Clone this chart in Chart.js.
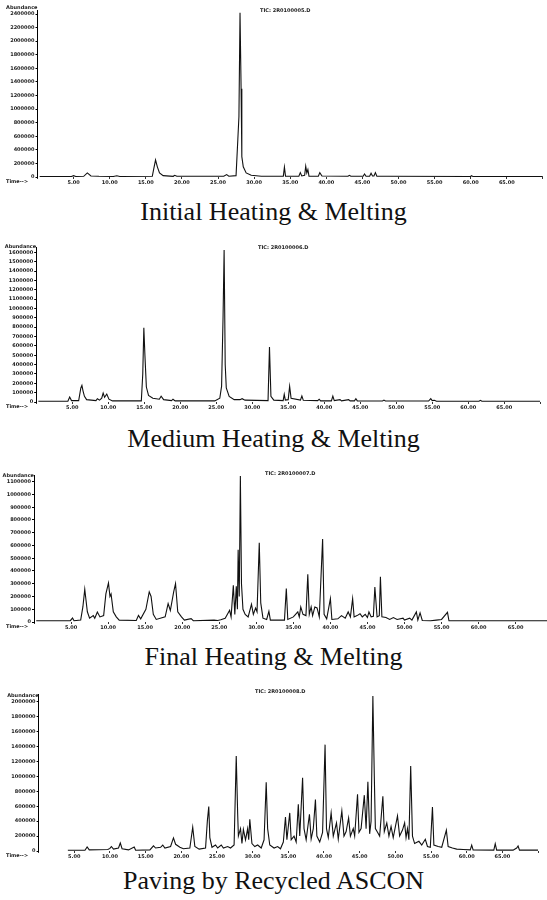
<!DOCTYPE html>
<html>
<head>
<meta charset="utf-8">
<script src="https://cdn.jsdelivr.net/npm/chart.js@4.4.1/dist/chart.umd.min.js"></script>
<style>
  html, body { margin: 0; padding: 0; background: #fff; }
  body { width: 547px; height: 900px; overflow: hidden; position: relative; }
  canvas { position: absolute; left: 0; }
  .ttl { position: absolute; left: 0; width: 547px; text-align: center; font-family: 'Liberation Serif', serif; font-size: 26px; line-height: 26px; color: #111; white-space: nowrap; }
</style>
</head>
<body>
<script>
// Chromatogram traces (retention time in min, abundance)
const initialTime  = [0.3, 4.7, 5.0, 5.3, 6.4, 6.9, 7.4, 8.5, 10.5, 11.0, 11.4, 15.9, 16.1, 16.35, 16.6, 16.9, 17.4, 18.8, 19.0, 19.3, 25.8, 26.2, 26.5, 27.5, 27.75, 27.9, 28.05, 28.2, 28.3, 28.5, 28.9, 29.6, 31.0, 34.05, 34.2, 34.35, 36.2, 36.4, 36.6, 37.0, 37.15, 37.3, 37.45, 37.6, 38.9, 39.1, 39.4, 43.0, 43.2, 43.4, 45.1, 45.3, 45.5, 46.0, 46.2, 46.4, 46.6, 46.8, 47.0, 48.5, 60.0, 60.1, 60.3, 70];
const initialAbund = [8000, 8000, 20000, 8000, 10000, 60000, 15000, 10000, 8000, 18000, 8000, 10000, 120000, 250000, 150000, 60000, 20000, 10000, 25000, 10000, 10000, 35000, 12000, 20000, 560000, 890000, 2420000, 1300000, 300000, 150000, 60000, 25000, 12000, 12000, 145000, 12000, 12000, 64000, 15000, 25000, 160000, 60000, 110000, 12000, 12000, 64000, 15000, 10000, 25000, 10000, 10000, 45000, 10000, 10000, 55000, 15000, 15000, 64000, 12000, 10000, 8000, 20000, 8000, 8000];

const mediumTime  = [0.3, 4.4, 4.65, 4.9, 5.9, 6.2, 6.35, 6.5, 6.7, 7.0, 8.3, 8.5, 8.8, 9.1, 9.3, 9.5, 9.8, 10.1, 10.6, 14.6, 14.8, 14.95, 15.1, 15.3, 15.6, 16.2, 17.1, 17.35, 17.7, 18.8, 19.0, 19.3, 24.8, 25.5, 25.75, 25.95, 26.1, 26.25, 26.4, 26.8, 27.5, 28.3, 28.6, 29.0, 32.2, 32.4, 32.6, 33.0, 34.3, 34.45, 34.6, 35.0, 35.2, 35.4, 36.7, 36.9, 37.1, 39.1, 39.3, 39.5, 41.0, 41.2, 41.4, 42.2, 42.4, 43.4, 43.6, 44.2, 44.4, 44.6, 48.1, 48.3, 48.5, 54.5, 54.8, 55.0, 55.3, 55.6, 61.5, 61.7, 61.9, 70];
const mediumAbund = [8000, 8000, 53000, 15000, 15000, 150000, 178000, 120000, 60000, 25000, 15000, 35000, 20000, 40000, 96000, 50000, 85000, 30000, 12000, 12000, 300000, 793000, 500000, 160000, 70000, 40000, 30000, 61000, 25000, 15000, 30000, 12000, 12000, 40000, 170000, 900000, 1625000, 400000, 150000, 60000, 25000, 25000, 35000, 20000, 15000, 589000, 60000, 20000, 15000, 82000, 20000, 25000, 168000, 40000, 20000, 64000, 18000, 15000, 30000, 12000, 12000, 64000, 15000, 25000, 12000, 25000, 12000, 12000, 35000, 12000, 10000, 20000, 10000, 10000, 35000, 15000, 18000, 8000, 8000, 18000, 8000, 8000];

const finalTime  = [0.3, 4.9, 5.2, 5.4, 6.3, 6.6, 6.85, 7.0, 7.2, 7.5, 8.0, 8.2, 8.55, 8.9, 9.4, 9.7, 10.05, 10.25, 10.4, 10.7, 11.1, 11.5, 13.8, 14.1, 14.4, 15.1, 15.55, 15.8, 16.1, 16.5, 17.7, 18.1, 18.4, 18.85, 19.1, 19.4, 19.9, 20.3, 21.2, 21.5, 24.3, 24.8, 25.2, 25.8, 26.4, 26.6, 26.9, 27.1, 27.3, 27.45, 27.55, 27.7, 27.85, 28.0, 28.2, 28.5, 28.9, 29.35, 29.6, 29.9, 30.1, 30.4, 30.6, 30.9, 31.4, 31.7, 31.9, 33.8, 34.05, 34.25, 35.0, 35.3, 35.6, 35.8, 36.0, 36.3, 36.7, 36.95, 37.15, 37.4, 37.6, 37.9, 38.2, 38.5, 38.95, 39.15, 39.5, 40.0, 40.2, 41.0, 41.5, 42.0, 42.4, 42.7, 43.0, 43.2, 43.6, 44.0, 44.3, 44.7, 45.0, 45.2, 45.5, 45.8, 46.0, 46.3, 46.6, 46.75, 46.95, 47.5, 48.0, 48.5, 49.0, 49.8, 50.0, 50.7, 51.0, 51.6, 51.8, 52.1, 52.4, 53.5, 54.3, 55.0, 55.8, 56.0, 61.0, 70];
const finalAbund = [10000, 10000, 31000, 10000, 15000, 120000, 256000, 180000, 80000, 30000, 50000, 30000, 79000, 40000, 50000, 220000, 306000, 200000, 220000, 80000, 40000, 15000, 12000, 52000, 25000, 100000, 236000, 200000, 60000, 20000, 40000, 144000, 90000, 236000, 301000, 80000, 40000, 15000, 26000, 10000, 15000, 12000, 18000, 30000, 92000, 40000, 288000, 60000, 280000, 100000, 566000, 200000, 1145000, 300000, 100000, 60000, 40000, 139000, 60000, 110000, 80000, 621000, 150000, 30000, 20000, 84000, 15000, 15000, 262000, 20000, 40000, 60000, 79000, 40000, 118000, 60000, 50000, 375000, 60000, 118000, 50000, 118000, 110000, 40000, 650000, 60000, 25000, 184000, 20000, 25000, 50000, 30000, 79000, 40000, 183000, 40000, 50000, 65000, 40000, 60000, 35000, 79000, 40000, 45000, 275000, 40000, 50000, 354000, 40000, 35000, 20000, 35000, 20000, 30000, 15000, 30000, 15000, 79000, 15000, 71000, 12000, 10000, 15000, 20000, 76000, 10000, 10000, 10000];

const pavingTime  = [4.1, 6.5, 6.8, 7.1, 9.7, 10.0, 10.2, 10.5, 11.2, 11.45, 11.7, 12.6, 13.4, 13.6, 15.6, 16.1, 16.4, 17.1, 17.4, 17.7, 18.5, 18.9, 19.2, 19.5, 19.8, 20.3, 21.2, 21.6, 21.9, 22.5, 23.4, 23.65, 23.85, 24.0, 24.3, 24.8, 25.1, 25.6, 25.9, 26.5, 26.9, 27.4, 27.7, 27.9, 28.0, 28.3, 28.5, 28.7, 29.0, 29.3, 29.45, 29.6, 29.9, 30.3, 30.7, 31.2, 31.6, 31.9, 32.1, 32.4, 33.0, 33.5, 33.9, 34.3, 34.6, 34.8, 35.2, 35.4, 35.8, 36.1, 36.4, 36.6, 37.0, 37.2, 37.5, 37.96, 38.2, 38.5, 38.8, 39.0, 39.4, 39.8, 40.15, 40.35, 40.6, 41.0, 41.3, 41.75, 42.0, 42.5, 42.8, 43.1, 43.45, 43.7, 44.1, 44.3, 44.7, 44.9, 45.2, 45.65, 45.9, 46.15, 46.4, 46.6, 46.85, 47.05, 47.2, 47.5, 47.8, 48.25, 48.45, 48.8, 49.1, 49.4, 49.7, 50.3, 50.6, 51.0, 51.3, 51.5, 51.7, 51.9, 52.15, 52.4, 52.7, 53.3, 53.7, 54.2, 54.5, 54.9, 55.2, 55.4, 56.0, 56.5, 57.15, 57.4, 58.0, 58.6, 59.5, 60.5, 60.7, 60.9, 63.8, 64.0, 64.2, 66.5, 67.0, 67.2, 67.4, 70];
const pavingAbund = [10000, 10000, 54000, 15000, 20000, 35000, 60000, 25000, 40000, 107000, 30000, 15000, 54000, 10000, 15000, 70000, 40000, 50000, 80000, 40000, 60000, 175000, 90000, 70000, 50000, 30000, 40000, 318000, 60000, 25000, 40000, 400000, 595000, 180000, 50000, 80000, 40000, 80000, 40000, 60000, 40000, 80000, 1271000, 500000, 200000, 300000, 100000, 290000, 150000, 300000, 150000, 425000, 100000, 60000, 80000, 40000, 150000, 920000, 300000, 80000, 40000, 60000, 30000, 120000, 456000, 150000, 510000, 150000, 200000, 120000, 626000, 200000, 980000, 300000, 150000, 492000, 160000, 300000, 689000, 200000, 120000, 250000, 1425000, 300000, 180000, 510000, 200000, 376000, 160000, 537000, 200000, 260000, 443000, 200000, 300000, 200000, 761000, 250000, 300000, 748000, 300000, 926000, 230000, 400000, 2076000, 1000000, 300000, 250000, 200000, 734000, 260000, 376000, 200000, 330000, 180000, 470000, 200000, 280000, 376000, 180000, 300000, 150000, 1139000, 200000, 100000, 130000, 80000, 157000, 60000, 50000, 590000, 80000, 60000, 50000, 280000, 60000, 40000, 25000, 20000, 15000, 78000, 15000, 12000, 98000, 12000, 12000, 40000, 67000, 12000, 12000];

const titles = ['Initial Heating & Melting', 'Medium Heating & Melting', 'Final Heating & Melting', 'Paving by Recycled ASCON'];
const ticNames = ['TIC: 2R0100005.D', 'TIC: 2R0100006.D', 'TIC: 2R0100007.D', 'TIC: 2R0100008.D'];
const yTopTicks = [2400000, 1600000, 1100000, 2000000];
const yMaxes = [2450000, 1650000, 1150000, 2100000];
const ySteps = [200000, 100000, 100000, 200000];
const xTickStep = 5;
const xMax = 70;

// page layout of each scanned panel
const PAD = 12, XH = 14;
const panels = [
  { time: initialTime, abund: initialAbund, left: 37.5, pxMin: 7.22, zeroY: 177, perPx: 14724, titleY: 199, ticX: 260, ticY: 11 },
  { time: mediumTime, abund: mediumAbund, left: 36.2, pxMin: 7.2, zeroY: 401.7, perPx: 10710, titleY: 426, ticX: 258, ticY: 248 },
  { time: finalTime, abund: finalAbund, left: 34, pxMin: 7.41, zeroY: 621.7, perPx: 7857, titleY: 644, ticX: 265, ticY: 474 },
  { time: pavingTime, abund: pavingAbund, left: 38.6, pxMin: 7.135, zeroY: 850.7, perPx: 13423, titleY: 868, ticX: 255, ticY: 692 },
];

const tickFont = { family: 'DejaVu Sans', size: 5, weight: 'bold' };

// Plugin for the small header texts of each chromatogram
const gcText = {
  id: 'gcText',
  afterDraw(chart, args, opts) {
    const { ctx, chartArea, scales } = chart;
    ctx.save();
    ctx.fillStyle = '#222';
    ctx.font = 'bold 5px "DejaVu Sans"';
    ctx.textBaseline = 'middle';
    const yTop = scales.y.getPixelForValue(opts.topTick);
    ctx.textAlign = 'right';
    ctx.fillText('Abundance', chartArea.left, yTop - 6);
    ctx.textAlign = 'left';
    ctx.fillText('Time-->', 6, chartArea.bottom + 5);
    ctx.fillText(opts.tic, opts.ticX, opts.ticY - opts.canvasTop);
    ctx.restore();
  }
};

panels.forEach((p, i) => {
  const plotH = yMaxes[i] / p.perPx;
  const canvasTop = Math.round(p.zeroY - plotH - PAD);
  const height = Math.round(p.zeroY) + XH - canvasTop;
  const right = p.left + xMax * p.pxMin;
  const width = Math.ceil(right) + 2;

  const cv = document.createElement('canvas');
  cv.width = width;
  cv.height = height;
  cv.style.top = canvasTop + 'px';
  document.body.appendChild(cv);

  const t = document.createElement('div');
  t.className = 'ttl';
  t.style.top = p.titleY + 'px';
  t.textContent = titles[i];
  document.body.appendChild(t);

  const step = ySteps[i];
  const topTick = yTopTicks[i];
  new Chart(cv.getContext('2d'), {
    type: 'line',
    data: {
      datasets: [{
        data: p.time.map((x, k) => ({ x, y: p.abund[k] })),
        borderColor: '#111',
        borderWidth: 1.1,
        pointRadius: 0,
        tension: 0,
        fill: false,
      }],
    },
    options: {
      responsive: false,
      animation: false,
      devicePixelRatio: 1,
      layout: { padding: { top: (p.zeroY - plotH) - canvasTop, right: width - right, left: 0, bottom: 0 } },
      plugins: {
        legend: { display: false },
        tooltip: { enabled: false },
        gcText: { topTick, tic: ticNames[i], ticX: p.ticX, ticY: p.ticY, canvasTop },
      },
      scales: {
        x: {
          type: 'linear',
          min: 0,
          max: xMax,
          afterFit: s => { s.height = XH; },
          border: { display: false },
          grid: { drawOnChartArea: false, tickLength: 2, color: '#333' },
          ticks: {
            stepSize: xTickStep,
            autoSkip: false,
            maxRotation: 0,
            padding: 1,
            color: '#222',
            font: tickFont,
            callback: v => (v === 0 || v >= xMax) ? '' : v.toFixed(2),
          },
        },
        y: {
          min: 0,
          max: yMaxes[i],
          afterFit: s => { s.width = p.left; },
          // keep the round tick values only, dropping the axis top
          afterBuildTicks: s => {
            const vals = [];
            for (let v = 0; v <= topTick + 1; v += step) vals.push({ value: v });
            s.ticks = vals;
          },
          border: { display: true, color: '#000', width: 1 },
          grid: { drawOnChartArea: false, tickLength: 2, color: '#000' },
          ticks: {
            autoSkip: false,
            padding: 1,
            color: '#222',
            font: tickFont,
            callback: v => String(Math.round(v)),
          },
        },
      },
    },
    plugins: [gcText],
  });
});
</script>
</body>
</html>
